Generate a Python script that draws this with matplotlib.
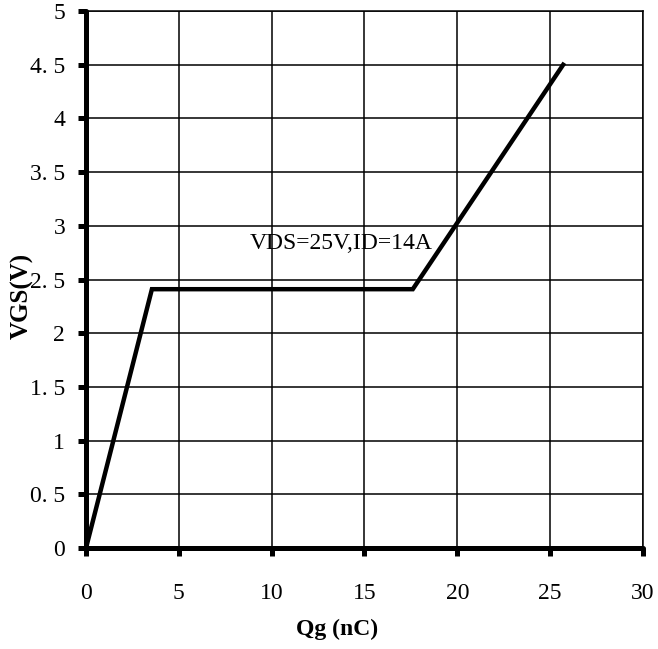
import matplotlib
matplotlib.use('Agg')
import matplotlib.pyplot as plt

# gate charge curve
qg = [0.0, 3.55, 17.6, 25.7]
vgs = [0.0, 2.41, 2.41, 4.5]

x_ticks = [0, 5, 10, 15, 20, 25, 30]
y_ticks = [0, 0.5, 1, 1.5, 2, 2.5, 3, 3.5, 4, 4.5, 5]
y_tick_labels = ['0', '0. 5', '1', '1. 5', '2', '2. 5', '3', '3. 5', '4', '4. 5', '5']

note = 'VDS=25V,ID=14A'

fig = plt.figure(figsize=(6.58, 6.49), dpi=100)
ax = fig.add_axes([0.1307, 0.1556, 0.8465, 0.8274])

ax.plot(qg, vgs, color='black', lw=3.2, solid_joinstyle='miter', zorder=3, clip_on=False)

ax.set_xlim(0, 30)
ax.set_ylim(0, 5)
ax.set_xticks(x_ticks)
ax.set_yticks(y_ticks)
ax.set_xticklabels([str(v) for v in x_ticks])
ax.set_yticklabels(y_tick_labels)
ax.grid(True, color='black', lw=1.1)
ax.set_axisbelow(True)

for side in ['top', 'right']:
    ax.spines[side].set_linewidth(1.1)
for side in ['left', 'bottom']:
    ax.spines[side].set_linewidth(3.6)
    ax.spines[side].set_capstyle('round')

ax.tick_params(axis='both', direction='out', length=6, width=3.6,
               labelsize=17, colors='black')
ax.tick_params(axis='x', pad=19)
ax.tick_params(axis='y', pad=9)
for t in ax.get_xticklines() + ax.get_yticklines():
    t.set_solid_capstyle('round')
for lab in ax.get_xticklabels() + ax.get_yticklabels():
    lab.set_family('Liberation Serif')

ax.set_xlabel('Qg (nC)', fontsize=17, fontweight='bold', family='Liberation Serif')
ax.set_ylabel('VGS(V)', fontsize=18, fontweight='bold', family='Liberation Serif')
ax.xaxis.set_label_coords(0.45, -0.132)
ax.yaxis.set_label_coords(-0.094, 0.47)

ax.text(8.8, 2.84, note, fontsize=17, family='Liberation Serif', va='center', ha='left')

fig.savefig('out.png', dpi=100)
